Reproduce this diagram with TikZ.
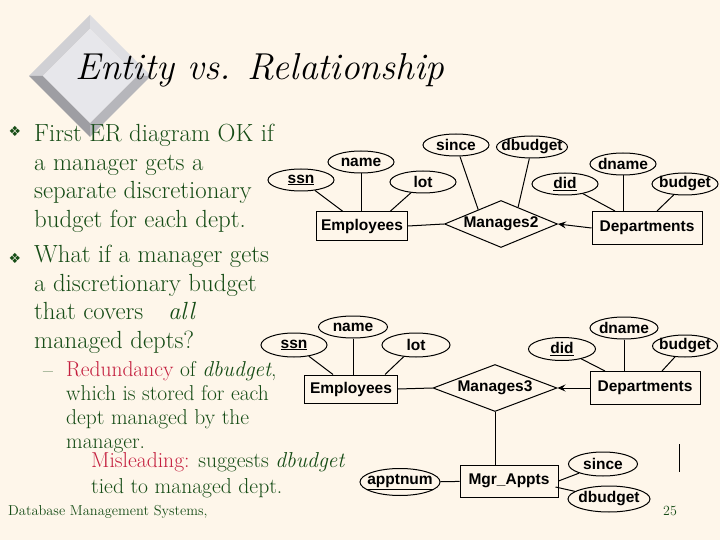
\documentclass[tikz,border=0pt]{standalone}
\usepackage{fontspec}
\usepackage{tikz}
\usetikzlibrary{arrows.meta,positioning,calc,shapes.geometric}
\newfontfamily\erfont{Liberation Sans}
\newfontfamily\dingfont{DejaVu Sans}
\definecolor{slideBg}{RGB}{254, 246, 234}
\definecolor{inkGreen}{RGB}{22, 76, 22}
\definecolor{inkRed}{RGB}{196, 30, 62}
\definecolor{bevelFace}{RGB}{231, 231, 235}
\definecolor{bevelTL}{RGB}{208, 208, 212}
\definecolor{bevelTR}{RGB}{222, 222, 226}
\definecolor{bevelBL}{RGB}{158, 158, 163}
\definecolor{bevelBR}{RGB}{182, 182, 187}
\tikzset{
  erlabel/.style={font=\erfont\bfseries\fontsize{15.5}{16}\selectfont},
  attr/.style={erlabel, draw, ellipse, line width=1pt, inner sep=0pt,
    minimum width=66pt, minimum height=22pt},
  entity/.style={erlabel, draw, rectangle, line width=1pt, inner sep=0pt,
    minimum height=28pt},
  relship/.style={erlabel, draw, diamond, line width=1pt, inner sep=0pt,
    minimum width=113pt, minimum height=47pt},
  link/.style={line width=1pt},
  keyarrow/.style={line width=1pt, -{Stealth[length=8pt, width=7pt, inset=3pt]}},
  bodytext/.style={align=left, inner sep=0pt, anchor=base west, text=inkGreen},
  bulletmark/.style={inner sep=0pt, text=inkGreen, font=\dingfont\fontsize{14}{14}\selectfont},
}
\begin{document}
\begin{tikzpicture}[x=1pt, y=-1pt]
  \fill[slideBg] (0,0) rectangle (720,540);
  \useasboundingbox (0,0) rectangle (720,540);

  % bevelled diamond behind the title
  \fill[bevelTL] (90,15) -- (29,76) -- (43,76) -- (90,29) -- cycle;
  \fill[bevelTR] (90,15) -- (151,76) -- (137,76) -- (90,29) -- cycle;
  \fill[bevelBL] (29,76) -- (90,137) -- (90,123) -- (43,76) -- cycle;
  \fill[bevelBR] (151,76) -- (90,137) -- (90,123) -- (137,76) -- cycle;
  \fill[bevelFace] (90,29) -- (137,76) -- (90,123) -- (43,76) -- cycle;

  \node[inner sep=0pt, anchor=base west, font=\fontsize{37.5}{40}\selectfont\itshape]
    (title) at (75,80) {Entity vs. Relationship};

  % left column (base = last line of each block)
  \node[bulletmark] (bul1) at (15,131) {❖};
  \node[bulletmark] (bul2) at (15,258) {❖};
  \node[bodytext, font=\fontsize{24.8}{28.4}\selectfont] (pt1) at (34,227)
    {First ER diagram OK if\\a manager gets a\\separate discretionary\\budget for each dept.};
  \node[bodytext, font=\fontsize{24.8}{28.4}\selectfont] (pt2) at (34,348)
    {What if a manager gets\\a discretionary budget\\that covers\hspace{0.7em} \textit{all}\\managed depts?};
  \node[bodytext, font=\fontsize{21.5}{23.7}\selectfont] (dash) at (43,377) {--};
  \node[bodytext, font=\fontsize{21.5}{23.7}\selectfont] (sub1) at (66,448)
    {\textcolor{inkRed}{Redundancy} of \textit{dbudget},\\which is stored for each\\dept managed by the\\manager.};
  \node[bodytext, font=\fontsize{21.6}{26}\selectfont] (sub2) at (91,493)
    {\textcolor{inkRed}{Misleading:} suggests \textit{dbudget}\\tied to managed dept.};
  \node[bodytext, font=\fontsize{14.4}{16}\selectfont] (footer) at (8,515)
    {Database Management Systems,};
  \node[bodytext, font=\fontsize{14}{16}\selectfont] (pageno) at (663,515) {25};

  % Manages2
  \node[attr] (ssn1) at (301,180) {\makebox[0pt]{\underline{ssn}}};
  \node[attr] (name1) at (361,162) {\makebox[0pt]{name}};
  \node[attr] (lot1) at (423,182) {\makebox[0pt]{lot}};
  \node[entity, minimum width=91pt] (emp1) at (362,226) {\makebox[0pt]{Employees}};
  \node[relship] (m2) at (501,224) {\makebox[0pt]{Manages2}};
  \node[attr] (since1) at (456,145) {\makebox[0pt]{since}};
  \node[attr, minimum width=71pt] (dbud1) at (532,147) {\makebox[0pt]{dbudget}};
  \node[attr] (did1) at (565,184) {\makebox[0pt]{\underline{did}}};
  \node[attr] (dname1) at (623,164) {\makebox[0pt]{dname}};
  \node[attr] (budget1) at (685,184) {\makebox[0pt]{budget}};
  \node[entity, minimum width=110pt, minimum height=33pt] (dep1) at (647,228) {\makebox[0pt]{Departments}};

  \draw[link] (ssn1) -- ($(emp1.north)+(-19,0)$);
  \draw[link] (name1) -- (name1 |- emp1.north);
  \draw[link] (lot1) -- ($(emp1.north)+(28,0)$);
  \draw[link] (emp1.east) -- (m2.west);
  \draw[link] (since1) -- ($(m2.north)!0.4!(m2.west)$);
  \draw[link] (dbud1) -- ($(m2.north)!0.3!(m2.east)$);
  \draw[keyarrow] (dep1.west) -- (m2.east);
  \draw[link] (did1) -- ($(dep1.north)+(-32,0)$);
  \draw[link] (dname1) -- (dname1 |- dep1.north);
  \draw[link] (budget1) -- ($(dep1.north)+(10,0)$);

  % Manages3 with Mgr_Appts
  \node[attr, minimum height=24pt] (ssn2) at (294,345) {\makebox[0pt]{\underline{ssn}}};
  \node[attr, minimum width=69pt] (name2) at (353,327) {\makebox[0pt]{name}};
  \node[attr, minimum width=68pt, minimum height=24pt] (lot2) at (416,345) {\makebox[0pt]{lot}};
  \node[entity, minimum width=93pt] (emp2) at (351,389) {\makebox[0pt]{Employees}};
  \node[relship, minimum width=124pt] (m3) at (495,388) {\makebox[0pt]{Manages3}};
  \node[attr, minimum width=67pt, minimum height=23pt] (did2) at (562,349) {\makebox[0pt]{\underline{did}}};
  \node[attr, minimum width=68pt] (dname2) at (624,328) {\makebox[0pt]{dname}};
  \node[attr, minimum width=65pt] (budget2) at (685,346) {\makebox[0pt]{budget}};
  \node[entity, minimum width=110pt, minimum height=33pt] (dep2) at (645,388) {\makebox[0pt]{Departments}};
  \node[entity, minimum width=98pt, minimum height=32pt] (mgr) at (509,481) {\makebox[0pt]{Mgr\_Appts}};
  \node[attr, minimum width=80pt, minimum height=27pt] (appt) at (400,482) {\makebox[0pt]{\underline{apptnum}}};
  \node[attr, minimum width=69pt, minimum height=24pt] (since2) at (603,464) {\makebox[0pt]{since}};
  \node[attr, minimum width=82pt, minimum height=26pt] (dbud2) at (609,499) {\makebox[0pt]{dbudget}};

  \draw[link] (ssn2) -- ($(emp2.north)+(-18,0)$);
  \draw[link] (name2) -- (name2 |- emp2.north);
  \draw[link] (lot2) -- ($(emp2.north)+(34,0)$);
  \draw[link] (emp2.east) -- (m3.west);
  \draw[keyarrow] (dep2.west) -- (m3.east);
  \draw[link] (did2) -- ($(dep2.north)+(-40,0)$);
  \draw[link] (dname2) -- (dname2 |- dep2.north);
  \draw[link] (budget2) -- ($(dep2.north)+(17,0)$);
  \draw[link] (m3.south) -- (m3.south |- mgr.north);
  \draw[link] (appt) -- (mgr);
  \draw[link] (mgr.east) -- (since2);
  \draw[link] ($(mgr.east)+(-3,6)$) -- (dbud2);

  \coordinate (tickTop) at (679,444);
  \coordinate (tickBot) at (679,472);
  \draw[link] (tickTop) -- (tickBot);
\end{tikzpicture}
\end{document}
